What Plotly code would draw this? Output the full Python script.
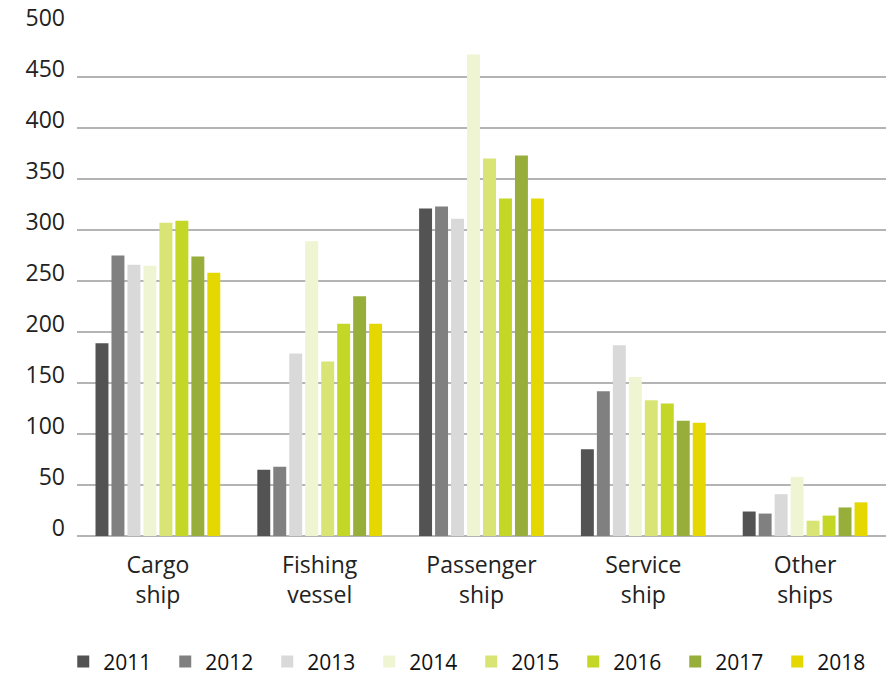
import plotly.graph_objects as go

categories = ["Cargo<br>ship", "Fishing<br>vessel", "Passenger<br>ship", "Service<br>ship", "Other<br>ships"]
years = ["2011", "2012", "2013", "2014", "2015", "2016", "2017", "2018"]
values = {
    "2011": [189, 65, 321, 85, 24],
    "2012": [275, 68, 323, 142, 22],
    "2013": [266, 179, 311, 187, 41],
    "2014": [265, 289, 472, 156, 58],
    "2015": [307, 171, 370, 133, 15],
    "2016": [309, 208, 331, 130, 20],
    "2017": [274, 235, 373, 113, 28],
    "2018": [258, 208, 331, 111, 33],
}
colors = ["#535353", "#808080", "#d9d9d9", "#eff4d3", "#d8e474", "#c4d626", "#97ae3a", "#e4d800"]
tick_vals = [0, 50, 100, 150, 200, 250, 300, 350, 400, 450, 500]

fig = go.Figure()
for yr, c in zip(years, colors):
    fig.add_trace(go.Bar(x=categories, y=values[yr], name=yr, marker=dict(color=c, line=dict(width=0))))

font_family = "'Open Sans', Lato, sans-serif"
fig.update_layout(
    width=887, height=678,
    margin=dict(l=77, r=1, t=26, b=142, autoexpand=False),
    plot_bgcolor="white", paper_bgcolor="white",
    barmode="group", bargap=0.21, bargroupgap=0.19,
    font=dict(family=font_family, color="#222222", size=22),
    showlegend=True,
    legend=dict(orientation="h", x=-0.017, xanchor="left", y=-0.247, yanchor="middle",
                font=dict(size=21, color="#111111"), entrywidth=57, entrywidthmode="pixels",
                itemsizing="constant", traceorder="normal", tracegroupgap=0,
                bgcolor="rgba(0,0,0,0)"),
    xaxis=dict(showgrid=False, showline=False, ticks="", tickfont=dict(size=23, color="#222222"),
               ticklabelstandoff=13, automargin=False),
    yaxis=dict(range=[0, 500], tickvals=tick_vals, showgrid=True, gridcolor="#b4b4b4", gridwidth=2,
               zeroline=True, zerolinecolor="#b4b4b4", zerolinewidth=2, showline=False,
               tickfont=dict(size=23, color="#222222"), ticklabelshift=-8, ticklabelstandoff=11,
               automargin=False),
)

fig.write_html("out.html", config={"displayModeBar": False},
               post_script="document.body.style.margin='0';")
